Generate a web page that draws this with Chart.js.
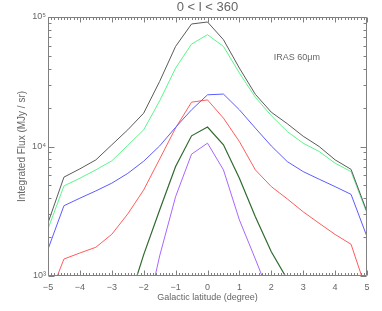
<!DOCTYPE html>
<html>
<head>
<meta charset="utf-8">
<script src="https://cdn.jsdelivr.net/npm/chart.js@4"></script>
<style>
html,body{margin:0;padding:0;background:#fff;}
canvas{display:block;}
</style>
</head>
<body>
<canvas id="c" width="382" height="311"></canvas>
<script>
// Galactic latitude (degree)
const latitude = [-5, -4.5, -4, -3.5, -3, -2.5, -2, -1.5, -1, -0.5, 0, 0.5, 1, 1.5, 2, 2.5, 3, 3.5, 4, 4.5, 5];

// Integrated flux (MJy / sr) per curve
const fluxGrey      = [2570, 5800, 6720, 7880, 10300, 13450, 18100, 31800, 59300, 88300, 91500, 66800, 40300, 25300, 18400, 15000, 12000, 10000, 7890, 6660, 3130];
const fluxLightGreen= [2310, 4960, 5690, 6600, 7750, 10200, 13450, 22500, 40300, 61800, 73000, 59300, 36900, 24000, 17300, 13050, 10600, 9150, 7430, 6400, 3040];
const fluxBlue      = [1610, 3490, 3990, 4540, 5210, 6200, 7700, 10100, 14060, 19200, 25070, 25400, 19200, 13870, 10100, 7650, 6400, 5590, 4900, 4270, 2010];
const fluxRed       = [658, 1352, 1506, 1667, 2100, 3015, 4620, 8000, 13900, 22000, 22900, 16560, 10920, 6600, 4900, 3940, 3130, 2555, 2093, 1758, 752];
const fluxDarkGreen = [null, null, null, null, null, 597, 1462, 3230, 7000, 12090, 14120, 10300, 5690, 2873, 1541, 944, null, null, null, null, null];
const fluxPurple    = [null, null, null, null, null, null, 403, 1428, 4100, 8730, 10610, 6600, 2710, 1352, 660, null, null, null, null, null, null];

const seriesList = [fluxGrey, fluxLightGreen, fluxBlue, fluxRed, fluxDarkGreen, fluxPurple];
const seriesColors = ['#5a5a5a', '#5cf58c', '#5c5cff', '#ff5c5c', '#2f6a2f', '#a866ff'];

// Axis ticks
const xTickValues = [-5, -4, -3, -2, -1, 0, 1, 2, 3, 4, 5];
const yTickValues = [1000, 10000, 100000];
const yTickLabels = ['10\u00B3', '10\u2074', '10\u2075'];

const titleText = '0 < l < 360';
const xTitle = 'Galactic latitude (degree)';
const yTitle = 'Integrated Flux (MJy / sr)';
const bandLabel = 'IRAS 60\u03BCm';
const bandLabelPos = {x: 2.8, y: 49000};

const FONT = "'Liberation Sans', Arial, Helvetica, sans-serif";
const TEXT = '#666666';
const AXIS = '#808080';

const datasets = seriesList.map((s, i) => ({
  data: latitude.map((v, j) => ({x: v, y: s[j]})),
  borderColor: seriesColors[i],
  borderWidth: i === 4 ? 1.2 : 1,
  pointRadius: 0,
  fill: false,
  tension: 0,
  spanGaps: false
}));

const frameTicks = {
  id: 'frameTicks',
  afterDraw(chart) {
    const {ctx, chartArea: a, scales: {x, y}} = chart;
    const L = Math.round(a.left) + 0.5, R = Math.round(a.right) - 0.5;
    const T = Math.round(a.top) + 0.5, B = Math.round(a.bottom) - 0.5;
    ctx.save();
    ctx.strokeStyle = AXIS;
    ctx.lineWidth = 1;
    ctx.beginPath();
    ctx.rect(L, T, R - L, B - T);
    // x ticks (major every 1, minor every 0.1)
    for (let k = Math.round(x.min * 10); k <= Math.round(x.max * 10); k++) {
      const px = Math.round(x.getPixelForValue(k / 10)) + 0.5;
      const len = (k % 10 === 0) ? 5 : 2.5;
      ctx.moveTo(px, B); ctx.lineTo(px, B - len);
      ctx.moveTo(px, T); ctx.lineTo(px, T + len);
    }
    // y ticks (log)
    for (let d = 3; d <= 5; d++) {
      for (let m = 1; m <= 9; m++) {
        const v = m * Math.pow(10, d);
        if (v < y.min || v > y.max) continue;
        const py = Math.round(y.getPixelForValue(v)) + 0.5;
        const len = m === 1 ? 6 : 3;
        ctx.moveTo(L, py); ctx.lineTo(L + len, py);
        ctx.moveTo(R, py); ctx.lineTo(R - len, py);
      }
    }
    ctx.stroke();
    // band label
    ctx.fillStyle = TEXT;
    ctx.font = '9px ' + FONT;
    ctx.textAlign = 'center';
    ctx.textBaseline = 'middle';
    ctx.fillText(bandLabel, x.getPixelForValue(bandLabelPos.x), y.getPixelForValue(bandLabelPos.y));
    ctx.restore();
  }
};

new Chart(document.getElementById('c'), {
  type: 'line',
  data: {datasets},
  plugins: [frameTicks],
  options: {
    responsive: false,
    devicePixelRatio: 1,
    animation: false,
    layout: {padding: {left: 0, right: 15, top: 0, bottom: 0}},
    plugins: {
      legend: {display: false},
      tooltip: {enabled: false},
      title: {
        display: true,
        text: titleText,
        fullSize: false,
        color: TEXT,
        font: {family: FONT, size: 13, weight: 'normal', lineHeight: 1.2},
        padding: {top: 0, bottom: 1.4}
      }
    },
    scales: {
      x: {
        type: 'linear',
        min: -5, max: 5,
        afterBuildTicks: s => { s.ticks = xTickValues.map(v => ({value: v})); },
        ticks: {
          color: TEXT,
          font: {family: FONT, size: 9},
          padding: 6,
          maxRotation: 0,
          callback: v => (v < 0 ? '\u2212' + Math.abs(v) : String(v))
        },
        grid: {display: false, drawTicks: false},
        border: {display: false},
        title: {
          display: true, text: xTitle, color: TEXT,
          font: {family: FONT, size: 9, lineHeight: 1.2},
          padding: {top: 0, bottom: 8.5}
        },
        afterFit: s => { s.height = 35; }
      },
      y: {
        type: 'logarithmic',
        min: 1000, max: 100000,
        afterBuildTicks: s => { s.ticks = yTickValues.map(v => ({value: v})); },
        ticks: {
          color: TEXT,
          font: {family: FONT, size: 9},
          padding: 2,
          callback: (v, i) => yTickLabels[i]
        },
        grid: {display: false, drawTicks: false},
        border: {display: false},
        title: {
          display: true, text: yTitle, color: TEXT,
          font: {family: FONT, size: 10, lineHeight: 1.2},
          padding: {top: 16.5, bottom: 0}
        },
        afterFit: s => { s.width = 48; }
      }
    }
  }
});
</script>
</body>
</html>
